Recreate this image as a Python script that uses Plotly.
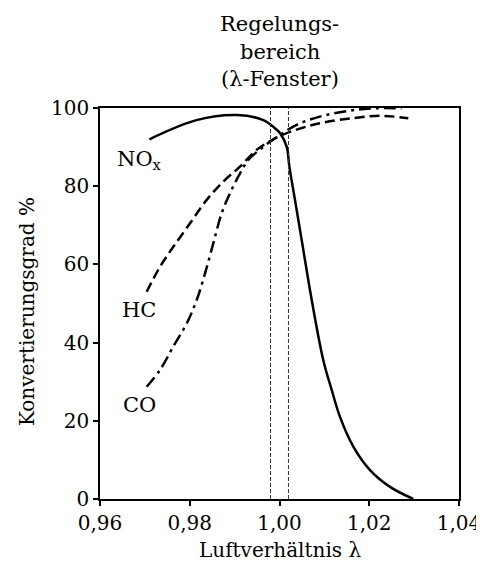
import plotly.graph_objects as go

# Data
nox_x = [0.9710, 0.9815, 0.9905, 0.9964, 0.9994, 1.0001, 1.0016, 1.0022,
         1.00345, 1.00495, 1.00718, 1.00976, 1.01163, 1.01348, 1.01645,
         1.02017, 1.02463, 1.0298]
nox_y = [92.0, 96.9, 98.2, 96.9, 94.4, 93.6, 90.1, 85.0,
         76.5, 66.2, 50.9, 35.5, 27.9, 21.0, 13.4,
         7.4, 3.1, 0.0]

hc_x = [0.97041, 0.97337, 0.97633, 0.98006, 0.98378, 0.98748, 0.9912, 0.99492,
        0.99862, 1.00234, 1.0090, 1.01645, 1.0224, 1.0287]
hc_y = [53.0, 59.4, 64.5, 70.5, 76.5, 81.2, 85.0, 89.3,
        92.0, 93.9, 96.1, 97.4, 98.0, 97.4]

co_x = [0.97041, 0.97337, 0.97633, 0.97932, 0.98155, 0.9834, 0.98525, 0.98712,
        0.98897, 0.9912, 0.99305, 0.99632, 0.99944, 1.00383, 1.0090, 1.0150,
        1.0202, 1.0272]
co_y = [28.7, 33.0, 39.0, 44.9, 50.9, 57.7, 65.4, 73.1,
        78.2, 83.3, 86.7, 90.0, 92.6, 95.7, 97.8, 99.2,
        99.9, 99.9]

window = [0.998, 1.002]

x_ticks = [0.96, 0.98, 1.00, 1.02, 1.04]
x_ticktext = ["0,96", "0,98", "1,00", "1,02", "1,04"]
y_ticks = [0, 20, 40, 60, 80, 100]

labels = ["NO<sub>x</sub>", "HC", "CO"]
label_x = [0.9689, 0.9687, 0.9687]
label_y = [86.7, 48.3, 24.0]

title_lines = ["Regelungs-", "bereich", "(λ-Fenster)"]
x_title = "Luftverhältnis λ"
y_title = "Konvertierungsgrad %"

FONT = "DejaVu Serif"

fig = go.Figure()
fig.add_trace(go.Scatter(x=nox_x, y=nox_y, mode="lines",
                         line=dict(color="black", width=2.5, shape="spline", smoothing=1.0),
                         showlegend=False))
fig.add_trace(go.Scatter(x=hc_x, y=hc_y, mode="lines",
                         line=dict(color="black", width=2.5, dash="10px,5px", shape="spline", smoothing=1.0),
                         showlegend=False))
fig.add_trace(go.Scatter(x=co_x, y=co_y, mode="lines",
                         line=dict(color="black", width=2.5, dash="12px,5px,3px,5px", shape="spline", smoothing=1.0),
                         showlegend=False))

for wx in window:
    fig.add_shape(type="line", xref="x", yref="y", x0=wx, x1=wx, y0=0, y1=100,
                  line=dict(color="#333333", width=1, dash="4px,2px"))

for t, lx, ly in zip(labels, label_x, label_y):
    fig.add_annotation(x=lx, y=ly, xref="x", yref="y", text=t, showarrow=False,
                       xanchor="center", yanchor="middle",
                       font=dict(family=FONT, size=21, color="black"))

n = len(title_lines)
for i, line in enumerate(title_lines):
    fig.add_annotation(x=1.0, y=1.0, xref="x", yref="paper",
                       yshift=15 + (n - 1 - i) * 27.5,
                       text=line, showarrow=False,
                       xanchor="center", yanchor="bottom",
                       font=dict(family=FONT, size=21, color="black"))

# axis titles as annotations
fig.add_annotation(x=-0.2033, y=0.478, xref="paper", yref="paper",
                   text=y_title, showarrow=False, textangle=-90,
                   xanchor="center", yanchor="middle",
                   font=dict(family=FONT, size=20, color="black"))
fig.add_annotation(x=0.5, y=-0.1304, xref="paper", yref="paper",
                   text=x_title, showarrow=False,
                   xanchor="center", yanchor="middle",
                   font=dict(family=FONT, size=20, color="black"))

fig.update_layout(
    width=484, height=575,
    margin=dict(l=92, r=33, t=100, b=84, autoexpand=False),
    paper_bgcolor="white", plot_bgcolor="white",
    font=dict(family=FONT, size=20, color="black"),
)
fig.update_xaxes(range=[0.96, 1.04], tickvals=x_ticks, ticktext=x_ticktext,
                 tickfont=dict(family=FONT, size=20),
                 ticks="outside", ticklen=5, tickwidth=1.5, tickcolor="black",
                 showline=True, linecolor="black", linewidth=1.5, mirror=True,
                 showgrid=False, zeroline=False, automargin=False)
fig.update_yaxes(range=[0, 100], tickvals=y_ticks,
                 tickfont=dict(family=FONT, size=20),
                 ticks="outside", ticklen=5, tickwidth=1.5, tickcolor="black",
                 showline=True, linecolor="black", linewidth=1.5, mirror=True,
                 showgrid=False, zeroline=False, automargin=False)

fig.write_html("out.html")
